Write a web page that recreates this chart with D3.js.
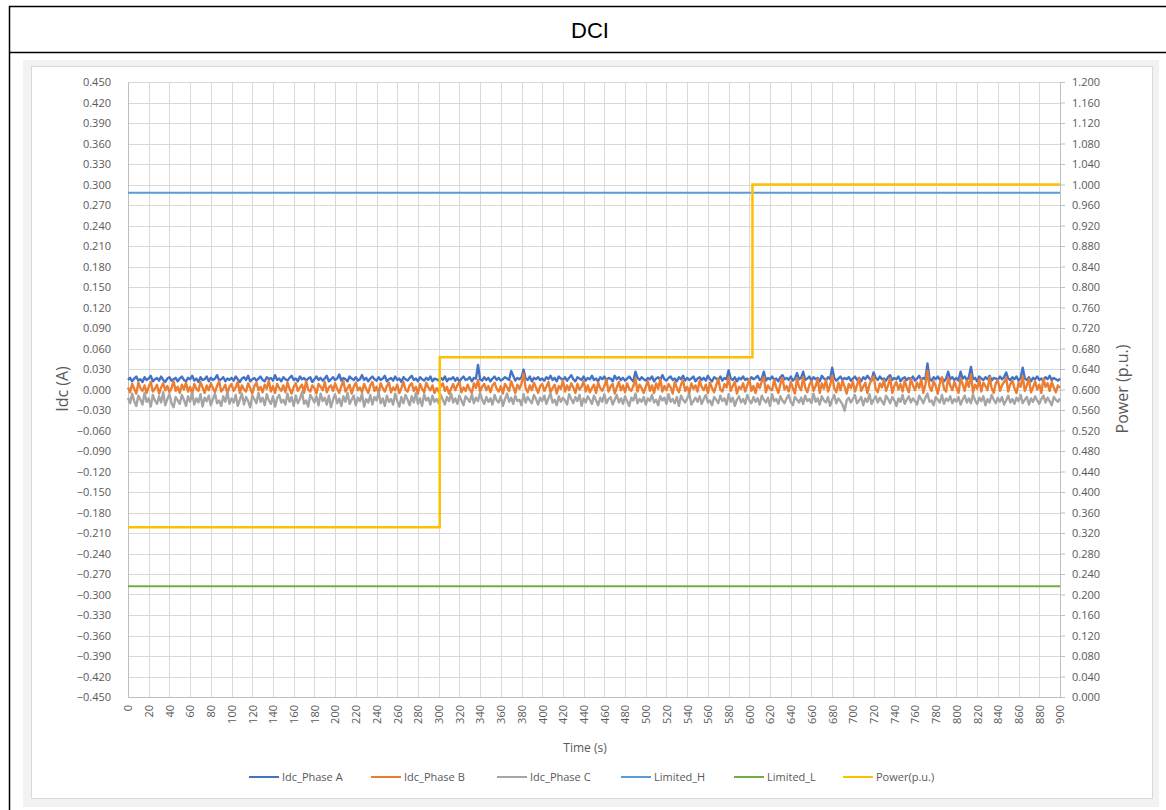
<!DOCTYPE html>
<html>
<head>
<meta charset="utf-8">
<style>
body { margin: 0; background: #fff; }
svg { font-family: "Open Sans", sans-serif; }
.grid line { stroke: #d9d9d9; stroke-width: 1; shape-rendering: crispEdges; }
.tick-label { font-size: 11px; fill: #595959; }
.axis-title { fill: #595959; }
.legend text { font-size: 11px; fill: #595959; }
</style>
</head>
<body>
<svg width="1166" height="810"></svg>
<script src="https://d3js.org/d3.v7.min.js"></script>
<script>

// sample step of the current traces, seconds
var stepSec = 2;

// Idc per phase, in mA, one value every 2 s from 0 to 900 s
var phaseA_mA = [
  14,17,12,16,19,13,15,11,18,14,16,20,12,15,17,13,19,14,11,16,18,13,15,17,12,
  16,19,14,12,17,15,20,13,16,11,18,14,15,19,12,17,14,16,21,13,15,18,12,16,14,
  17,13,19,15,11,16,18,14,20,12,15,17,13,16,19,14,12,18,15,17,13,21,14,16,12,
  18,15,13,17,20,14,16,12,19,15,17,13,16,18,11,15,19,14,17,13,16,20,12,15,18,
  14,16,22,13,17,15,12,19,16,14,18,13,15,21,14,17,12,16,19,15,13,18,14,16,20,
  12,15,17,13,19,14,16,11,18,15,13,17,20,14,16,12,18,15,13,17,14,19,12,16,15,
  13,17,14,19,12,16,15,18,13,17,11,16,19,14,15,18,12,17,16,36,15,13,18,14,17,
  12,16,19,14,17,13,15,18,16,14,27,20,13,17,15,18,29,16,14,19,12,17,15,18,14,
  16,13,18,15,20,14,17,12,19,16,14,18,13,17,21,15,12,18,16,14,19,13,17,15,20,
  14,16,12,18,15,19,13,17,16,12,20,15,18,14,17,13,16,19,15,12,26,17,14,18,15,
  13,17,15,19,12,16,18,14,21,15,13,17,19,14,16,12,18,15,20,13,17,14,16,19,12,
  16,18,14,17,13,20,15,12,18,16,14,19,13,17,15,28,16,14,18,12,17,15,19,14,16,
  13,18,15,17,20,14,16,26,13,17,15,19,14,16,12,18,21,15,17,14,19,13,16,24,15,
  17,26,14,16,19,13,18,15,17,12,20,16,14,18,15,32,17,13,16,19,14,17,15,18,13,
  16,19,14,17,12,18,15,20,16,13,25,17,14,19,15,16,13,18,21,14,17,15,19,12,16,
  18,14,17,15,19,13,16,20,14,17,15,38,16,13,18,15,19,14,17,12,16,26,15,18,14,
  17,13,26,16,19,14,18,33,15,17,12,19,16,14,18,15,20,13,17,16,14,19,15,18,25,
  16,14,18,15,19,13,17,32,16,14,18,12,17,15,19,14,16,13,18,15,20,14,17,15,13,
  16
];
var phaseB_mA = [
  3,-4,8,1,-6,10,2,-2,6,-5,4,11,-3,1,7,-6,3,9,-1,5,-4,2,12,-2,4,
  -5,7,0,10,-3,4,-6,8,1,-2,11,3,-5,6,-1,9,2,-4,5,12,-3,1,7,-6,4,
  8,-2,3,11,-5,6,0,-3,9,2,-6,5,10,-1,4,-4,7,1,13,-3,5,-5,8,2,-2,
  6,-4,10,1,-6,4,9,-2,3,7,-5,12,0,-3,6,2,-6,8,4,-1,11,-4,3,6,-2,
  9,1,-5,5,12,-3,2,7,-6,4,10,-1,3,-4,8,1,-5,6,11,-2,4,-6,9,2,-3,
  5,10,-4,3,-1,7,-5,2,11,0,-3,6,9,-2,4,-6,8,1,-4,10,3,-1,6,-5,2,
  -3,5,9,-2,4,-6,1,8,-1,6,11,-4,3,-2,7,0,-5,9,2,14,-3,4,8,-1,5,
  -4,6,10,1,-3,5,-6,8,3,-2,12,4,-5,7,1,9,23,2,-4,6,-1,10,3,-5,5,
  8,-2,4,11,-4,2,7,-6,5,1,13,-3,6,-1,9,3,-5,8,0,4,12,-3,6,-4,2,
  7,-5,10,2,-2,5,14,-3,4,8,-6,3,11,-1,6,-4,9,1,-2,5,16,-3,7,2,-5,
  4,12,-2,6,-5,9,1,15,-3,5,-1,8,3,-6,11,2,-4,7,14,-2,4,-5,9,1,6,
  -3,13,4,-1,7,-5,10,2,-4,6,16,0,-3,8,3,18,-2,5,11,-6,4,1,9,-3,6,
  15,-2,5,-5,9,2,12,18,-4,6,1,-1,14,3,-5,8,17,0,5,-3,11,2,-6,16,4,
  -1,18,3,-4,7,12,-2,5,15,-5,9,1,14,-3,6,20,2,-4,10,-1,13,4,-6,8,2,
  12,-3,6,17,-2,4,10,-5,7,15,19,1,-4,9,3,14,-2,6,17,-5,5,11,0,8,-3,
  13,3,-4,16,6,-1,10,2,15,-5,7,27,4,-2,12,5,-6,9,18,1,-3,17,6,-1,11,
  3,-5,16,8,-2,13,4,22,-4,7,1,15,-3,10,5,-1,18,2,-5,9,14,-2,6,11,17,
  -3,8,13,2,-5,10,4,19,-2,6,15,-4,3,12,0,7,-5,16,4,9,-2,11,3,-4,6,
  2
];
var phaseC_mA = [
  -12,-20,-6,-17,-24,-9,-15,-22,-5,-18,-13,-25,-8,-16,-21,-10,-19,-4,-23,-14,-7,-20,-26,-11,-16,
  -21,-8,-15,-24,-10,-18,-5,-22,-13,-19,-7,-25,-12,-17,-9,-23,-14,-6,-20,-16,-24,-10,-18,-4,-21,
  -13,-19,-8,-24,-15,-6,-22,-11,-17,-26,-9,-14,-20,-5,-18,-12,-23,-7,-16,-21,-10,-25,-13,-8,-19,
  -15,-22,-6,-18,-11,-24,-9,-20,-14,-4,-21,-16,-25,-8,-13,-19,-10,-23,-6,-17,-12,-22,-9,-26,-15,
  -7,-20,-13,-24,-10,-18,-5,-21,-15,-9,-23,-12,-17,-6,-25,-14,-19,-8,-22,-11,-16,-4,-20,-13,-24,
  -9,-18,-14,-22,-6,-17,-25,-11,-20,-8,-15,-23,-10,-19,-5,-21,-13,-24,-7,-16,-12,-22,-9,-18,-14,
  -20,-8,-15,-22,-11,-17,-6,-19,-13,-21,-9,-16,-23,-10,-14,-18,-7,-20,-12,-17,-5,-15,-21,-11,-18,
  -13,-22,-8,-16,-19,-10,-24,-14,-6,-18,-12,-21,-9,-17,-15,-23,-7,-19,-11,-16,-20,-8,-14,-22,-12,
  -17,-9,-21,-13,-6,-19,-15,-23,-10,-18,-12,-16,-22,-7,-14,-20,-11,-17,-8,-24,-13,-19,-10,-15,-21,
  -9,-16,-23,-12,-18,-7,-20,-14,-11,-22,-15,-8,-19,-13,-21,-10,-17,-24,-12,-16,-6,-20,-14,-18,-11,
  -22,-13,-17,-8,-19,-15,-23,-10,-16,-12,-21,-7,-18,-14,-20,-11,-24,-9,-15,-19,-13,-6,-22,-17,-12,
  -18,-10,-21,-14,-8,-19,-16,-23,-11,-15,-20,-9,-17,-13,-22,-7,-18,-12,-24,-15,-10,-19,-14,-21,-8,
  -16,-20,-11,-18,-13,-22,-9,-15,-19,-12,-24,-7,-17,-14,-21,-10,-16,-20,-13,-8,-18,-23,-11,-15,-19,
  -12,-21,-9,-17,-14,-20,-6,-18,-13,-22,-10,-16,-19,-11,-24,-15,-8,-20,-13,-17,-22,-31,-16,-12,-19,
  -14,-8,-20,-16,-11,-23,-13,-18,-7,-21,-15,-10,-19,-12,-17,-22,-9,-14,-20,-11,-16,-24,-13,-18,-8,
  -21,-15,-10,-19,-13,-17,-22,-9,-14,-20,-12,-6,-18,-16,-23,-11,-15,-19,-8,-21,-13,-17,-10,-20,-14,
  -18,-11,-22,-15,-9,-19,-13,-20,-7,-16,-21,-12,-17,-10,-23,-14,-19,-8,-15,-20,-12,-18,-11,-22,-16,
  -9,-19,-14,-21,-12,-17,-8,-20,-15,-11,-22,-13,-18,-10,-16,-21,-14,-9,-19,-12,-17,-23,-11,-15,-18,
  -13
];

// DCI limits, A
var limitH = 0.288;
var limitL = -0.288;

// active power steps (secondary axis)
var powerTime = [0, 301, 301, 603, 603, 900];
var powerPu   = [0.331, 0.331, 0.663, 0.663, 1.000, 1.000];

var leftTicks = d3.range(-15, 16).map(function(k) { return k * 0.03; });
var rightTicks = d3.range(0, 31).map(function(k) { return k * 0.04; });
var xTicks = d3.range(0, 901, 20);

var seriesNames = ["Idc_Phase A", "Idc_Phase B", "Idc_Phase C", "Limited_H", "Limited_L", "Power(p.u.)"];
var seriesColors = ["#4472c4", "#ed7d31", "#a5a5a5", "#5b9bd5", "#70ad47", "#ffc000"];

var svg = d3.select("svg");

// table frame and title row
svg.append("rect").attr("x", 9.5).attr("y", 6.5).attr("width", 1170).attr("height", 810)
  .attr("fill", "none").attr("stroke", "#000").attr("stroke-width", 1.5);
svg.append("line").attr("x1", 9).attr("x2", 1166).attr("y1", 52.5).attr("y2", 52.5)
  .attr("stroke", "#000").attr("stroke-width", 1.5);
svg.append("text").attr("x", 590).attr("y", 38).attr("text-anchor", "middle")
  .style("font-family", "'Liberation Sans', Arial, sans-serif").style("font-size", "22px")
  .text("DCI");

// chart box
svg.append("rect").attr("x", 23).attr("y", 60).attr("width", 1136).attr("height", 747).attr("fill", "#f2f2f2");
svg.append("rect").attr("x", 31.5).attr("y", 66.5).attr("width", 1121).attr("height", 732)
  .attr("fill", "#fff").attr("stroke", "#d9d9d9");

var x = d3.scaleLinear().domain([0, 900]).range([128, 1060]);
var y = d3.scaleLinear().domain([-0.45, 0.45]).range([697, 82]);
var y2 = d3.scaleLinear().domain([0, 1.2]).range([697, 82]);

// grid
var grid = svg.append("g").attr("class", "grid");
grid.selectAll(".h").data(leftTicks).enter().append("line")
  .attr("x1", 128).attr("x2", 1060)
  .attr("y1", function(d) { return Math.round(y(d)) + 0.5; })
  .attr("y2", function(d) { return Math.round(y(d)) + 0.5; });
grid.selectAll(".v").data(xTicks).enter().append("line")
  .attr("y1", 82).attr("y2", 697)
  .attr("x1", function(d) { return Math.round(x(d)) + 0.5; })
  .attr("x2", function(d) { return Math.round(x(d)) + 0.5; });

// axes
var fmt3 = d3.format(".3f");
var yAxis = d3.axisLeft(y).tickValues(leftTicks).tickSize(0).tickPadding(17)
  .tickFormat(function(d) { return fmt3(Math.abs(d) < 1e-9 ? 0 : d); });
var gy = svg.append("g").attr("transform", "translate(128,0)").call(yAxis);
var y2Axis = d3.axisRight(y2).tickValues(rightTicks).tickSize(5).tickPadding(7).tickFormat(fmt3);
var gy2 = svg.append("g").attr("transform", "translate(1060,0)").call(y2Axis);
var xAxis = d3.axisBottom(x).tickValues(xTicks).tickSize(0).tickPadding(0).tickFormat(d3.format("d"));
var gx = svg.append("g").attr("transform", "translate(0,697)").call(xAxis);

[gy, gy2, gx].forEach(function(g) {
  g.select(".domain").attr("stroke", "#bfbfbf").attr("stroke-width", 1);
  g.selectAll(".tick line").attr("stroke", "#bfbfbf");
  g.selectAll(".tick text").attr("class", "tick-label").attr("fill", "#595959")
    .style("font-size", "11px").style("font-family", "'Open Sans', sans-serif");
});
gx.selectAll(".tick text")
  .attr("transform", "rotate(-90)")
  .attr("x", -8).attr("y", 0).attr("dy", "0.35em")
  .style("text-anchor", "end");

// axis titles
svg.append("text").attr("class", "axis-title")
  .attr("transform", "translate(68,389) rotate(-90)").attr("text-anchor", "middle")
  .style("font-size", "16px").text("Idc (A)");
svg.append("text").attr("class", "axis-title")
  .attr("transform", "translate(1128,389) rotate(-90)").attr("text-anchor", "middle")
  .style("font-size", "16px").text("Power (p.u.)");
svg.append("text").attr("class", "axis-title")
  .attr("x", 585).attr("y", 752).attr("text-anchor", "middle")
  .style("font-size", "12px").text("Time (s)");

// series
var line = d3.line()
  .x(function(d) { return x(d[0]); })
  .y(function(d) { return y(d[1]); });
var line2 = d3.line()
  .x(function(d) { return x(d[0]); })
  .y(function(d) { return y2(d[1]); });

function toPoints(values) {
  return values.map(function(v, i) { return [i * stepSec, v / 1000]; });
}

var plot = svg.append("g");
[phaseA_mA, phaseB_mA, phaseC_mA].forEach(function(vals, i) {
  plot.append("path").datum(toPoints(vals))
    .attr("fill", "none").attr("stroke", seriesColors[i]).attr("stroke-width", 2.4)
    .attr("stroke-linejoin", "round")
    .attr("d", line);
});
plot.append("path").datum([[0, limitH], [900, limitH]])
  .attr("fill", "none").attr("stroke", seriesColors[3]).attr("stroke-width", 2).attr("d", line);
plot.append("path").datum([[0, limitL], [900, limitL]])
  .attr("fill", "none").attr("stroke", seriesColors[4]).attr("stroke-width", 2).attr("d", line);
plot.append("path").datum(powerTime.map(function(t, i) { return [t, powerPu[i]]; }))
  .attr("fill", "none").attr("stroke", seriesColors[5]).attr("stroke-width", 2.5).attr("d", line2);

// legend
var legendX = [249, 371, 497, 621, 734, 843];
var legend = svg.append("g").attr("class", "legend");
seriesNames.forEach(function(name, i) {
  legend.append("line").attr("x1", legendX[i]).attr("x2", legendX[i] + 30)
    .attr("y1", 777).attr("y2", 777)
    .attr("stroke", seriesColors[i]).attr("stroke-width", 2);
  legend.append("text").attr("x", legendX[i] + 33).attr("y", 781).text(name);
});

</script>
</body>
</html>
